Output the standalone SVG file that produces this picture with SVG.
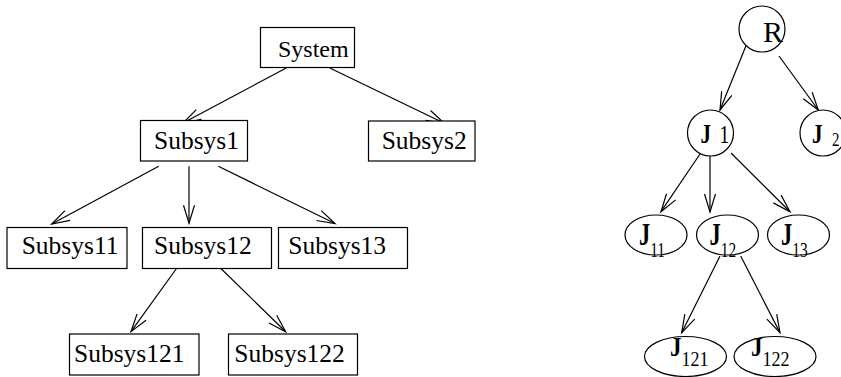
<svg xmlns="http://www.w3.org/2000/svg" width="841" height="377" viewBox="0 0 841 377">
<style>
.box{fill:#fff;stroke:#000;stroke-width:1.2}
.nd{fill:#fff;stroke:#000;stroke-width:1.2}
.lbl{font-family:"Liberation Serif","Times New Roman",serif;font-size:25.5px;fill:#000}
.js{font-family:"Liberation Serif","Times New Roman",serif;fill:#000}
.jl{font-family:"Liberation Serif","Times New Roman",serif;fill:#000}
.jl .b{font-weight:bold}
.edge{stroke:#000;stroke-width:1.2;fill:none;marker-end:url(#ah)}
</style>
<defs>
<marker id="ah" markerUnits="userSpaceOnUse" orient="auto" refX="0" refY="0" markerWidth="30" markerHeight="30" viewBox="-25 -15 30 30" overflow="visible">
<path d="M-18,-5.5 L0,0 L-18,5.5" fill="none" stroke="#000" stroke-width="1.2"/>
</marker>
</defs>
<rect width="841" height="377" fill="#fff"/>
<g id="connectors">
<line class="edge" x1="286.7" y1="67.7" x2="183" y2="123"/>
<line class="edge" x1="329.3" y1="67.7" x2="444.3" y2="123.3"/>
<line class="edge" x1="158.7" y1="166.3" x2="51.7" y2="224"/>
<line class="edge" x1="189" y1="166.3" x2="189" y2="223.3"/>
<line class="edge" x1="218.3" y1="166.3" x2="335" y2="223.5"/>
<line class="edge" x1="178.3" y1="266" x2="131" y2="331.7"/>
<line class="edge" x1="218.3" y1="266" x2="285.7" y2="331.7"/>
<line class="edge" x1="746.7" y1="44" x2="720" y2="110"/>
<line class="edge" x1="779" y1="56" x2="818.3" y2="110"/>
<line class="edge" x1="700" y1="154" x2="661" y2="211.7"/>
<line class="edge" x1="710" y1="155" x2="710" y2="212"/>
<line class="edge" x1="731" y1="153" x2="790" y2="211.7"/>
<line class="edge" x1="720" y1="256" x2="681.7" y2="332.7"/>
<line class="edge" x1="740.7" y1="256" x2="780" y2="332.7"/>
</g>
<g id="System"><rect class="box" x="260.5" y="27.5" width="94" height="40"/><text class="lbl" x="278" y="57" style="font-size:24px">System</text></g>
<g id="Subsys1"><rect class="box" x="140.5" y="120.5" width="107" height="40.5"/><text class="lbl" x="154" y="148.5">Subsys1</text></g>
<g id="Subsys2"><rect class="box" x="368.5" y="121" width="106.5" height="40"/><text class="lbl" x="381.7" y="148.5">Subsys2</text></g>
<g id="Subsys11"><rect class="box" x="7" y="227.5" width="120" height="41"/><text class="lbl" x="21.7" y="254">Subsys11</text></g>
<g id="Subsys12"><rect class="box" x="142.5" y="227.5" width="129" height="41"/><text class="lbl" x="154" y="254">Subsys12</text></g>
<g id="Subsys13"><rect class="box" x="278.5" y="227.5" width="129" height="41"/><text class="lbl" x="288.3" y="254">Subsys13</text></g>
<g id="Subsys121"><rect class="box" x="69.5" y="334" width="129.5" height="41"/><text class="lbl" x="74" y="361.5">Subsys121</text></g>
<g id="Subsys122"><rect class="box" x="228.5" y="334" width="129" height="41"/><text class="lbl" x="234.3" y="361.5">Subsys122</text></g>
<g id="R"><circle class="nd" cx="762" cy="29" r="23"/><text class="js" x="763" y="41.5" style="font-size:30px">R</text></g>
<g id="J1"><circle class="nd" cx="710.5" cy="133" r="23"/><text class="jl" transform="translate(700.5,143.3) scale(0.78,1)"><tspan class="b" style="font-size:27px">J</tspan><tspan dx="11" style="font-size:25px">1</tspan></text></g>
<g id="J2"><circle class="nd" cx="823" cy="133" r="23"/><text class="jl" transform="translate(812,143.3) scale(0.78,1)"><tspan class="b" style="font-size:27px">J</tspan><tspan dx="12" dy="2.5" style="font-size:19px">2</tspan></text></g>
<g id="J11"><ellipse class="nd" cx="656" cy="235" rx="31" ry="20"/><text class="jl" transform="translate(639,245) scale(0.7,1)"><tspan class="b" style="font-size:32px">J</tspan><tspan dy="11.5" style="font-size:22px">11</tspan></text></g>
<g id="J12"><ellipse class="nd" cx="727.5" cy="235" rx="31" ry="20"/><text class="jl" transform="translate(709.5,245) scale(0.7,1)"><tspan class="b" style="font-size:32px">J</tspan><tspan dy="11.5" style="font-size:22px">12</tspan></text></g>
<g id="J13"><ellipse class="nd" cx="798.5" cy="235" rx="31" ry="20"/><text class="jl" transform="translate(781,245) scale(0.7,1)"><tspan class="b" style="font-size:32px">J</tspan><tspan dy="11.5" style="font-size:22px">13</tspan></text></g>
<g id="J121"><ellipse class="nd" cx="685.5" cy="356.5" rx="41" ry="20"/><text class="jl" transform="translate(670,355.7) scale(0.82,1)"><tspan class="b" style="font-size:28px">J</tspan><tspan dy="10.3" style="font-size:22px">121</tspan></text></g>
<g id="J122"><ellipse class="nd" cx="775" cy="356.5" rx="41" ry="20"/><text class="jl" transform="translate(751,355.7) scale(0.82,1)"><tspan class="b" style="font-size:28px">J</tspan><tspan dy="10.3" style="font-size:22px">122</tspan></text></g>
</svg>
